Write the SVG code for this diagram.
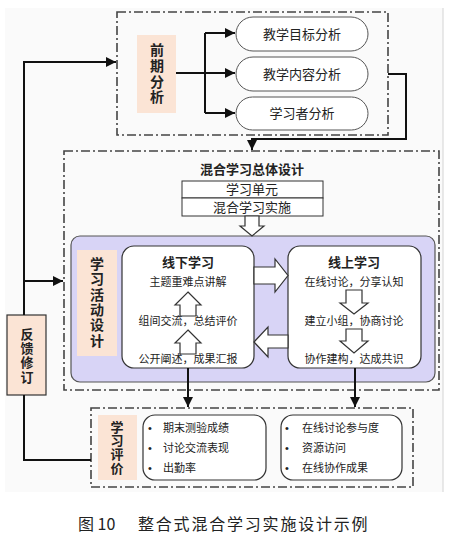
<svg xmlns="http://www.w3.org/2000/svg" width="452" height="538" viewBox="0 0 452 538">
<defs>
<style>
text{font-family:"Liberation Sans","Noto Sans CJK SC",sans-serif;fill:#222;dominant-baseline:central;text-anchor:middle}
.b{font-weight:bold}
.t13{font-size:13px}
.t11{font-size:11px}
.v{font-weight:bold;font-size:13px}
.dash{fill:none;stroke:#444;stroke-width:1.6;stroke-dasharray:9 3 2 3}
.peach{fill:#fbe4d5;stroke:none}
.pill{fill:#fff;stroke:#555;stroke-width:1}
.box{fill:#fff;stroke:#333;stroke-width:1.2}
.hol{fill:#fff;stroke:#333;stroke-width:1.2;stroke-linejoin:miter}
.ln{fill:none;stroke:#111;stroke-width:2}
.lst{text-anchor:start}
</style>
<marker id="ah" viewBox="0 0 10 10" refX="10" refY="5" markerWidth="5" markerHeight="5" orient="auto" markerUnits="strokeWidth">
<path d="M0,0 L10,5 L0,10 z" fill="#111"/>
</marker>
</defs>
<rect width="452" height="538" fill="#fff"/>
<rect x="5" y="8" width="438" height="484" fill="#fafafa"/>
<line x1="443" y1="8" x2="443" y2="492" stroke="#d4d4d4" stroke-width="1"/>

<g id="pre-analysis">
<rect class="dash" x="117" y="12" width="271" height="123"/>
<rect class="peach" x="137" y="35" width="39" height="78"/>
<text class="b" x="157" y="50" style="font-size:14px">前</text>
<text class="b" x="157" y="66" style="font-size:14px">期</text>
<text class="b" x="157" y="82" style="font-size:14px">分</text>
<text class="b" x="157" y="97" style="font-size:14px">析</text>
</g>
<g id="goal">
<rect class="pill" x="236" y="17" width="132" height="34" rx="17"/>
<text class="t13" x="302" y="34">教学目标分析</text>
</g>
<g id="content">
<rect class="pill" x="236" y="57" width="132" height="34" rx="17"/>
<text class="t13" x="302" y="74">教学内容分析</text>
</g>
<g id="learner">
<rect class="pill" x="236" y="97" width="132" height="33" rx="16.5"/>
<text class="t13" x="302" y="113">学习者分析</text>
</g>

<g id="overall-design">
<rect class="dash" x="64" y="151" width="375" height="239"/>
<text class="b t13" x="252" y="169">混合学习总体设计</text>
<rect class="box" x="182" y="181" width="141" height="17" style="stroke-width:1"/>
<text class="t13" x="252" y="189.5">学习单元</text>
<rect class="box" x="182" y="198" width="141" height="18" style="stroke-width:1"/>
<text class="t13" x="252" y="207">混合学习实施</text>
</g>

<g id="activity-design">
<rect x="71" y="236" width="364" height="146" rx="9" fill="#d8d4f6" stroke="#555" stroke-width="1.2"/>
<rect class="peach" x="77" y="250" width="40" height="106"/>
<text class="b" x="97" y="264" style="font-size:14px">学</text>
<text class="b" x="97" y="279" style="font-size:14px">习</text>
<text class="b" x="97" y="294.5" style="font-size:14px">活</text>
<text class="b" x="97" y="310" style="font-size:14px">动</text>
<text class="b" x="97" y="325" style="font-size:14px">设</text>
<text class="b" x="97" y="340.5" style="font-size:14px">计</text>
</g>

<g id="offline">
<rect class="box" x="122" y="246" width="132" height="122" rx="12"/>
<text class="b t13" x="188" y="262">线下学习</text>
<text class="t11" x="188" y="282">主题重难点讲解</text>
<text class="t11" x="188" y="321">组间交流，总结评价</text>
<text class="t11" x="188" y="359">公开阐述，成果汇报</text>
<polygon class="hol" points="188,292 201,305 196,305 196,316 180,316 180,305 175,305"/>
<polygon class="hol" points="188,330 201,343 196,343 196,354 180,354 180,343 175,343"/>
</g>

<g id="online">
<rect class="box" x="288" y="246" width="133" height="122" rx="12"/>
<text class="b t13" x="354" y="262">线上学习</text>
<text class="t11" x="354" y="282">在线讨论，分享认知</text>
<text class="t11" x="354" y="321">建立小组，协商讨论</text>
<text class="t11" x="354" y="359">协作建构，达成共识</text>
<polygon class="hol" points="346,290 362,290 362,303 368,303 354,314 340,303 346,303"/>
<polygon class="hol" points="346,329 362,329 362,341 368,341 354,353 340,341 346,341"/>
</g>

<g id="evaluation">
<rect class="dash" x="91" y="408" width="322" height="79"/>
<rect class="peach" x="98" y="415" width="39" height="65"/>
<text class="v" x="117" y="427">学</text>
<text class="v" x="117" y="440.7">习</text>
<text class="v" x="117" y="454.4">评</text>
<text class="v" x="117" y="468">价</text>
</g>
<g id="eval-offline">
<rect class="box" x="143" y="415" width="123" height="65" rx="12"/>
<text class="t11" x="150" y="428">•</text>
<text class="t11" x="150" y="448">•</text>
<text class="t11" x="150" y="468">•</text>
<text class="t11 lst" x="163" y="428">期末测验成绩</text>
<text class="t11 lst" x="163" y="448">讨论交流表现</text>
<text class="t11 lst" x="163" y="468">出勤率</text>
</g>
<g id="eval-online">
<rect class="box" x="281" y="415" width="121" height="65" rx="12"/>
<text class="t11" x="287" y="428">•</text>
<text class="t11" x="287" y="448">•</text>
<text class="t11" x="287" y="468">•</text>
<text class="t11 lst" x="302" y="428">在线讨论参与度</text>
<text class="t11 lst" x="302" y="448">资源访问</text>
<text class="t11 lst" x="302" y="468">在线协作成果</text>
</g>

<g id="feedback">
<rect x="7" y="315" width="39" height="80" fill="#fbe4d5" stroke="#333" stroke-width="1.2"/>
<text class="v" x="27" y="334">反</text>
<text class="v" x="27" y="348.3">馈</text>
<text class="v" x="27" y="362.6">修</text>
<text class="v" x="27" y="377">订</text>
</g>

<g id="connectors">
<path class="ln" d="M176,73 H205 M205,33 V113"/>
<path class="ln" d="M205,33 H235" marker-end="url(#ah)"/>
<path class="ln" d="M205,73 H235" marker-end="url(#ah)"/>
<path class="ln" d="M205,113 H235" marker-end="url(#ah)"/>
<path class="ln" d="M388,74 H406 V139 H252 V150" marker-end="url(#ah)"/>
<polygon class="hol" points="245,216 259,216 259,226 264,226 252,236 240,226 245,226"/>
<polygon class="hol" points="254,267 275,267 275,259 288,275.5 275,292 275,284 254,284"/>
<polygon class="hol" points="288,335 268,335 268,327 254,342 268,357 268,348 288,348"/>
<path class="ln" d="M188,368 V407" marker-end="url(#ah)"/>
<path class="ln" d="M355,368 V407" marker-end="url(#ah)"/>
<path class="ln" d="M24,315 V62 H116" marker-end="url(#ah)"/>
<path class="ln" d="M24,281 H63" marker-end="url(#ah)"/>
<path class="ln" d="M24,395 V460 H91"/>
</g>

<text x="78" y="523" style="font-size:16px;text-anchor:start;font-family:'Noto Sans CJK SC',sans-serif">图 10</text>
<text x="138" y="523" style="font-size:16px;text-anchor:start;letter-spacing:1.8px;font-family:'Noto Sans CJK SC',sans-serif">整合式混合学习实施设计示例</text>
</svg>
